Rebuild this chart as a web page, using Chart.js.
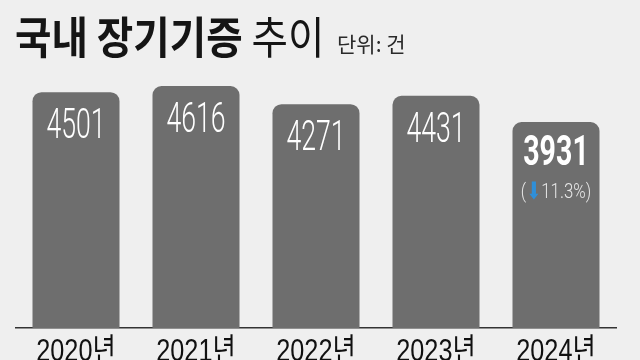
<!DOCTYPE html>
<html><head><meta charset="utf-8">
<script src="https://cdn.jsdelivr.net/npm/chart.js@4"></script>
<style>html,body{margin:0;padding:0;background:#efefef;overflow:hidden;}canvas{display:block;}</style>
</head><body>
<canvas id="c" width="640" height="360"></canvas>
<script>
const categories = ['2020년', '2021년', '2022년', '2023년', '2024년'];
const donations = [4501, 4616, 4271, 4431, 3931];
const valueLabels = ['4501', '4616', '4271', '4431', '3931'];
const changeLabel = '11.3%)';
const titleBold = '국내 장기기증';
const titleLight = '추이';
const unitText = '단위: 건';

const textPlugin = {
  id: 'texts',
  afterDatasetsDraw(chart) {
    const ctx = chart.ctx;
    const meta = chart.getDatasetMeta(0);
    meta.data.forEach((bar, i) => {
      const last = i === donations.length - 1;
      ctx.save();
      ctx.translate(bar.x, bar.y + (last ? 43 : 46));
      ctx.scale(last ? 0.68 : 0.62, 1);
      ctx.font = last ? 'bold 42px Roboto' : '300 43px Roboto';
      ctx.fillStyle = '#ffffff';
      ctx.textAlign = 'center';
      ctx.textBaseline = 'alphabetic';
      ctx.fillText(valueLabels[i], 0, 0);
      ctx.restore();
      if (last) {
        const f1 = '300 21px Roboto';
        const f2 = '24px "DejaVu Sans"';
        const s1 = 0.8, s2 = 0.75;
        ctx.save();
        ctx.textBaseline = 'alphabetic';
        ctx.textAlign = 'left';
        ctx.font = f1; const w1 = ctx.measureText('(').width * s1; const w3 = ctx.measureText(changeLabel).width * s1;
        ctx.font = f2; const w2 = ctx.measureText('⬇').width * s2;
        let x = bar.x - (w1 + w2 + w3) / 2;
        const y = bar.y + 76;
        const put = (t, f, s, col, xx, yy) => {
          ctx.save(); ctx.translate(xx, yy); ctx.scale(s, 1); ctx.font = f; ctx.fillStyle = col; ctx.fillText(t, 0, 0); ctx.restore();
        };
        put('(', f1, s1, '#e6e6e6', x, y); x += w1;
        put('⬇', f2, s2, '#2f8fd8', x, y + 1); x += w2;
        put(changeLabel, f1, s1, '#e6e6e6', x, y);
        ctx.restore();
      }
    });
    // category labels along the x axis
    const xs = chart.scales.x;
    ctx.save();
    ctx.fillStyle = '#111111';
    ctx.textAlign = 'center';
    ctx.textBaseline = 'alphabetic';
    categories.forEach((c, i) => {
      ctx.save();
      ctx.translate(xs.getPixelForTick(i), 361);
      ctx.scale(0.79, 1);
      ctx.font = '32px "Liberation Sans", "Noto Sans CJK KR"';
      ctx.fillText(c, 0, 0);
      ctx.restore();
    });
    ctx.restore();
  },
  afterDraw(chart) {
    const ctx = chart.ctx;
    ctx.save();
    ctx.textBaseline = 'alphabetic';
    ctx.textAlign = 'left';
    ctx.fillStyle = '#151515';
    ctx.translate(15, 54);
    ctx.scale(0.9, 1);
    ctx.font = 'bold 44px "Noto Sans CJK KR"';
    const wb = ctx.measureText(titleBold + ' ').width;
    ctx.fillText(titleBold, 0, 0);
    ctx.font = '44px "Noto Sans CJK KR"';
    ctx.fillText(titleLight, wb, 0);
    ctx.restore();
    ctx.save();
    ctx.fillStyle = '#2a2a2a';
    ctx.font = '21px "Noto Sans CJK KR"';
    ctx.textBaseline = 'alphabetic';
    ctx.fillText(unitText, 337, 52);
    ctx.restore();
  }
};

new Chart(document.getElementById('c'), {
  type: 'bar',
  data: {
    labels: categories,
    datasets: [{
      data: donations,
      backgroundColor: '#6e6e6e',
      borderRadius: 9,
      barPercentage: 0.725,
      categoryPercentage: 1
    }]
  },
  options: {
    responsive: false,
    animation: false,
    devicePixelRatio: 1,
    layout: { padding: { left: 16, right: 24, top: 66, bottom: 0 } },
    plugins: { legend: { display: false }, tooltip: { enabled: false }, title: { display: false } },
    scales: {
      x: {
        grid: { display: false, drawTicks: false },
        border: { display: true, color: '#333333', width: 1.5 },
        ticks: { display: false },
        afterFit(s) { s.height = 32; }
      },
      y: { display: false, min: 0, max: 5000 }
    }
  },
  plugins: [textPlugin]
});
</script>
</body></html>
